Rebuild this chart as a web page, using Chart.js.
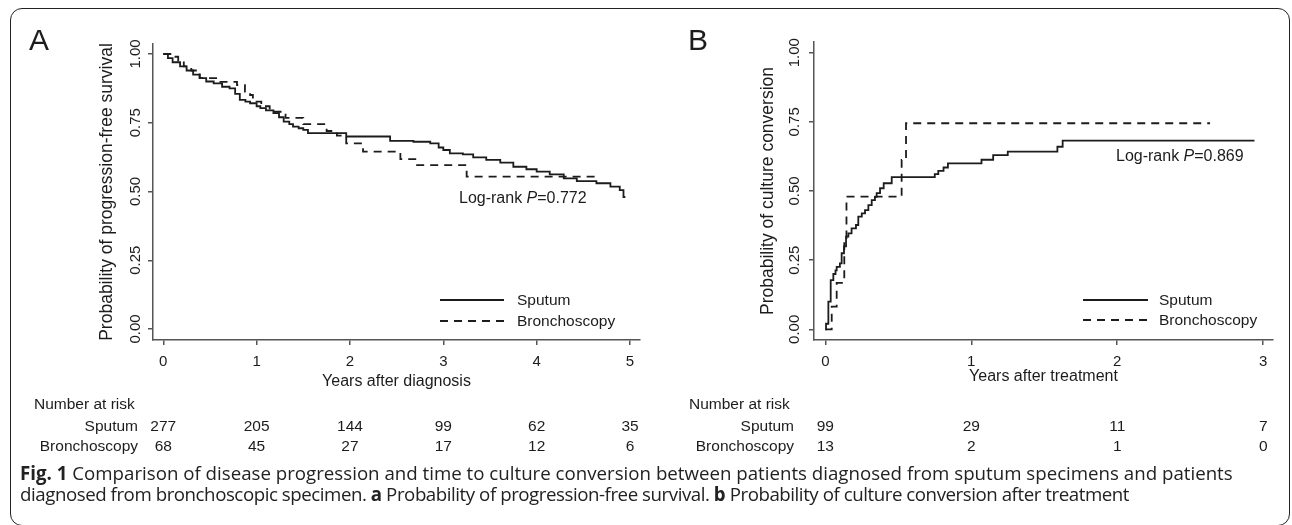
<!DOCTYPE html>
<html><head><meta charset="utf-8">
<script src="https://cdn.jsdelivr.net/npm/chart.js@4.4.0/dist/chart.umd.min.js"></script>
<style>
html,body{margin:0;padding:0;background:#fff;}
body{width:1292px;height:525px;position:relative;overflow:hidden;}
#frame{position:absolute;left:10px;top:8px;width:1280px;height:518px;border:1.6px solid #222;border-radius:12px;box-sizing:border-box;}
.wrap{position:absolute;top:0;}
#capt{position:absolute;left:20px;top:462px;font-family:'Open Sans',sans-serif;font-size:18.7px;line-height:21px;color:#222;white-space:nowrap;}
#capt b{font-weight:700;}
#capt .l2{display:block;letter-spacing:-0.45px;}
#capt .l1{display:block;}
</style></head>
<body>
<div id="frame"></div>
<div class="wrap" style="left:0;width:660px;height:470px;"><canvas id="cA" width="660" height="470"></canvas></div>
<div class="wrap" style="left:660px;width:632px;height:470px;"><canvas id="cB" width="632" height="470"></canvas></div>
<div id="capt"><span class="l1"><b>Fig. 1</b> Comparison of disease progression and time to culture conversion between patients diagnosed from sputum specimens and patients</span><span class="l2">diagnosed from bronchoscopic specimen. <b>a</b> Probability of progression-free survival. <b>b</b> Probability of culture conversion after treatment</span></div>
<script>
// ---------- Panel A: progression-free survival ----------
const sputumA_t = [0,0.05,0.1,0.18,0.25,0.32,0.39,0.46,0.54,0.63,0.71,0.77,0.82,0.88,0.93,1.0,1.04,1.1,1.18,1.24,1.29,1.35,1.39,1.45,1.5,1.55,1.96,2.43,2.68,2.86,2.95,3.0,3.07,3.21,3.32,3.46,3.61,3.75,3.89,4.0,4.14,4.29,4.43,4.64,4.79,4.89,4.93,4.95];
const sputumA_s = [1.0,0.985,0.97,0.955,0.94,0.925,0.912,0.9,0.893,0.881,0.875,0.855,0.833,0.827,0.821,0.81,0.803,0.795,0.785,0.77,0.754,0.745,0.736,0.73,0.724,0.712,0.70,0.684,0.681,0.675,0.66,0.651,0.639,0.635,0.624,0.615,0.605,0.59,0.581,0.572,0.562,0.548,0.538,0.53,0.518,0.505,0.48,0.48];
const bronchA_t = [0,0.1,0.16,0.22,0.3,0.39,0.59,0.79,0.875,0.93,0.96,1.05,1.14,1.31,1.5,1.75,1.86,1.96,2.14,2.54,2.7,3.25,4.68];
const bronchA_s = [1.0,0.99,0.975,0.955,0.94,0.912,0.899,0.887,0.863,0.851,0.827,0.81,0.79,0.768,0.745,0.72,0.703,0.675,0.645,0.618,0.596,0.554,0.554];
const riskTimesA = [0,1,2,3,4,5];
const riskSputumA = [277,205,144,99,62,35];
const riskBronchA = [68,45,27,17,12,6];
const xTicksA = [0,1,2,3,4,5];

// ---------- Panel B: culture conversion ----------
const sputumB_t = [0,0.005,0.021,0.037,0.055,0.07,0.078,0.10,0.112,0.128,0.142,0.158,0.18,0.21,0.226,0.25,0.272,0.295,0.318,0.34,0.352,0.375,0.40,0.455,0.75,0.774,0.81,0.84,1.07,1.15,1.25,1.59,1.626,2.94];
const sputumB_p = [0,0.02,0.10,0.178,0.20,0.213,0.226,0.238,0.275,0.30,0.335,0.347,0.365,0.377,0.407,0.419,0.431,0.449,0.467,0.479,0.492,0.51,0.528,0.55,0.561,0.573,0.585,0.60,0.613,0.63,0.642,0.66,0.682,0.682];
const bronchB_t = [0,0.044,0.078,0.13,0.145,0.523,0.553,2.636];
const bronchB_p = [0,0.082,0.168,0.33,0.48,0.612,0.745,0.745];
const riskTimesB = [0,1,2,3];
const riskSputumB = [99,29,11,7];
const riskBronchB = [13,2,1,0];
const xTicksB = [0,1,2,3];

const yTicks = [0,0.25,0.5,0.75,1];
const seriesNames = ['Sputum','Bronchoscopy'];

const INK = '#1c1c1c', AXIS = '#555';
const FONT = '"Liberation Sans", Arial, sans-serif';
const DASH = [8,6];

function pts(t, v){ return t.map((x,i)=>({x:x, y:v[i]})); }

const kmExtras = {
  id: 'kmExtras',
  afterDraw(chart, args, o) {
    const ctx = chart.ctx, xs = chart.scales.x;
    ctx.save();
    ctx.fillStyle = INK;
    // panel letter
    ctx.font = '30px ' + FONT; ctx.textAlign = 'left'; ctx.textBaseline = 'alphabetic';
    ctx.fillText(o.letter, o.letterX, o.letterY);
    // legend
    ctx.font = '15.5px ' + FONT; ctx.textBaseline = 'middle';
    chart.data.datasets.forEach((ds, i) => {
      const y = o.legY[i];
      ctx.beginPath(); ctx.strokeStyle = INK; ctx.lineWidth = 1.8;
      ctx.setLineDash(ds.borderDash || []);
      ctx.moveTo(o.legX1, y); ctx.lineTo(o.legX2, y); ctx.stroke();
      ctx.setLineDash([]);
      ctx.fillText(ds.label, o.legTextX, y + 1);
    });
    // log-rank
    let x = o.lrX;
    const parts = [['Log-rank ', ''], ['P', 'italic '], ['=' + o.pval, '']];
    parts.forEach(p => { ctx.font = p[1] + '16px ' + FONT; ctx.fillText(p[0], x, o.lrY); x += ctx.measureText(p[0]).width; });
    // risk table
    ctx.font = '15.5px ' + FONT;
    ctx.textAlign = 'left';
    ctx.fillText('Number at risk', o.nrX, o.rowY[0]);
    ctx.textAlign = 'right';
    o.rowLabels.forEach((lab, r) => ctx.fillText(lab, o.rowLabelX, o.rowY[r+1]));
    ctx.textAlign = 'center';
    o.riskRows.forEach((row, r) => {
      row.forEach((n, k) => ctx.fillText(String(n), xs.getPixelForValue(o.riskTimes[k]), o.rowY[r+1]));
    });
    ctx.restore();
  }
};

function makeChart(id, cfg) {
  return new Chart(document.getElementById(id), {
    type: 'line',
    data: { datasets: [
      { label: seriesNames[0], data: cfg.s1, borderColor: INK, borderWidth: 1.8, stepped: true, pointRadius: 0, fill: false },
      { label: seriesNames[1], data: cfg.s2, borderColor: INK, borderWidth: 1.8, borderDash: DASH, stepped: true, pointRadius: 0, fill: false }
    ]},
    options: {
      responsive: false, animation: false, devicePixelRatio: 1,
      layout: { padding: { left: 90, right: cfg.padRight, top: cfg.padTop, bottom: 70 } },
      plugins: { legend: { display: false }, tooltip: { enabled: false }, kmExtras: cfg.extras },
      scales: {
        x: {
          type: 'linear', min: cfg.xmin, max: cfg.xmax,
          afterBuildTicks: s => { s.ticks = cfg.xTicks.map(v => ({ value: v })); },
          afterFit: s => { s.height = 60; },
          ticks: { autoSkip: false, font: { family: FONT, size: 15 }, color: INK, padding: 7.5, maxRotation: 0, callback: v => String(v) },
          grid: { drawOnChartArea: false, drawTicks: true, tickLength: 5, color: AXIS, lineWidth: 1.5 },
          border: { display: true, color: AXIS, width: 1.5 },
          title: { display: true, text: cfg.xTitle, font: { family: FONT, size: 16 }, color: INK, padding: { top: 0, bottom: cfg.xTitlePad } }
        },
        y: {
          type: 'linear', min: cfg.ymin, max: cfg.ymax,
          afterBuildTicks: s => { s.ticks = yTicks.map(v => ({ value: v })); },
          afterFit: s => { s.width = cfg.yWidth; },
          ticks: { autoSkip: false, minRotation: 90, maxRotation: 90, crossAlign: 'center', font: { family: FONT, size: 15 }, color: INK, padding: cfg.yTickPad, callback: v => v.toFixed(2) },
          grid: { drawOnChartArea: false, drawTicks: true, tickLength: 5, color: AXIS, lineWidth: 1.5 },
          border: { display: true, color: AXIS, width: 1.5 },
          title: { display: true, text: cfg.yTitle, font: { family: FONT, size: 17.5 }, color: INK, padding: { top: cfg.yTitlePad, bottom: 0 } }
        }
      }
    },
    plugins: [kmExtras]
  });
}

makeChart('cA', {
  s1: pts(sputumA_t, sputumA_s), s2: pts(bronchA_t, bronchA_s),
  xmin: -0.110, xmax: 5.107, ymin: -0.04, ymax: 1.0364, xTicks: xTicksA,
  padRight: 20, padTop: 44, yWidth: 63, yTickPad: -2.6, yTitlePad: 6.5, xTitlePad: 8.4,
  xTitle: 'Years after diagnosis', yTitle: 'Probability of progression-free survival',
  extras: { letter: 'A', letterX: 29, letterY: 50, legY: [300, 321], legX1: 440, legX2: 504, legTextX: 517,
    lrX: 459, lrY: 199, pval: '0.772', nrX: 34, rowY: [405, 427, 447], rowLabelX: 138,
    rowLabels: seriesNames, riskRows: [riskSputumA, riskBronchA], riskTimes: riskTimesA }
});

makeChart('cB', {
  s1: pts(sputumB_t, sputumB_p), s2: pts(bronchB_t, bronchB_p),
  xmin: -0.0774, xmax: 3.067, ymin: -0.0387, ymax: 1.0387, xTicks: xTicksB,
  padRight: 19, padTop: 42, yWidth: 64, yTickPad: -0.6, yTitlePad: 7.5, xTitlePad: 13.4,
  xTitle: 'Years after treatment', yTitle: 'Probability of culture conversion',
  extras: { letter: 'B', letterX: 28, letterY: 50, legY: [300, 320], legX1: 423, legX2: 488, legTextX: 499,
    lrX: 456, lrY: 157, pval: '0.869', nrX: 29, rowY: [405, 427, 447], rowLabelX: 134,
    rowLabels: seriesNames, riskRows: [riskSputumB, riskBronchB], riskTimes: riskTimesB }
});
</script>
</body></html>
